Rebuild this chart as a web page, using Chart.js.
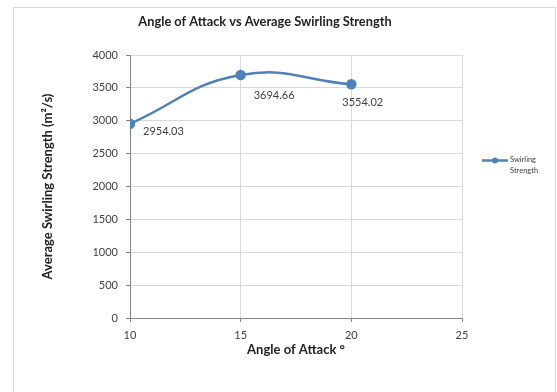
<!DOCTYPE html>
<html>
<head>
<meta charset="utf-8">
<script src="https://cdn.jsdelivr.net/npm/chart.js@4"></script>
<style>
  body { margin: 0; background: #fff; }
  #wrap { width: 557px; height: 392px; }
</style>
</head>
<body>
<div id="wrap"><canvas id="myChart" width="557" height="392"></canvas></div>
<script>
// angle of attack (deg) and average swirling strength (m2/s)
const angles = [10, 15, 20];
const strength = [2954.03, 3694.66, 3554.02];
const pointLabels = ["2954.03", "3694.66", "3554.02"];
const xTicks = [10, 15, 20, 25];
const yTicks = [0, 500, 1000, 1500, 2000, 2500, 3000, 3500, 4000];

const seriesName = ["Swirling", "Strength"];
const blue = "#4F81BD";
const font = "Lato";

// label nudges in px (dx, dy from the point)
const labelNudge = [[13, 8], [13, 20], [-9, 18]];

const extras = {
    id: "extras",
    beforeDraw(chart) {
        const ctx = chart.ctx;
        ctx.save();
        ctx.strokeStyle = "#d9d9d9";
        ctx.lineWidth = 1;
        ctx.strokeRect(13.5, 7.5, 542, 400);
        ctx.restore();
    },
    afterDatasetsDraw(chart) {
        const ctx = chart.ctx;
        const meta = chart.getDatasetMeta(0);
        ctx.save();
        // title
        ctx.fillStyle = "#222";
        ctx.font = "bold 12.8px " + font;
        ctx.textAlign = "center";
        ctx.textBaseline = "middle";
        ctx.fillText("Angle of Attack vs Average Swirling Strength", 265, 22);

        // data labels
        ctx.fillStyle = "#404040";
        ctx.font = "11px " + font;
        ctx.textAlign = "left";
        meta.data.forEach((pt, i) => {
            ctx.fillText(pointLabels[i], pt.x + labelNudge[i][0], pt.y + labelNudge[i][1]);
        });

        // legend
        ctx.strokeStyle = blue;
        ctx.lineWidth = 2.5;
        ctx.beginPath();
        ctx.moveTo(482, 160.5);
        ctx.lineTo(508, 160.5);
        ctx.stroke();
        ctx.fillStyle = blue;
        ctx.beginPath();
        ctx.arc(495, 160.5, 3, 0, Math.PI * 2);
        ctx.fill();
        ctx.fillStyle = "#404040";
        ctx.font = "7.5px " + font;
        ctx.fillText(seriesName[0], 510, 160);
        ctx.fillText(seriesName[1], 510, 171);
        ctx.restore();
    }
};

const data = {
    datasets: [
        {
            label: seriesName.join(" "),
            data: angles.map((a, i) => ({ x: a, y: strength[i] })),
            borderColor: blue,
            backgroundColor: blue,
            borderWidth: 2.5,
            pointRadius: 4,
            pointHoverRadius: 4,
            tension: 0.45,
            fill: false
        }
    ]
};

const config = {
    type: "line",
    data: data,
    plugins: [extras],
    options: {
        responsive: false,
        animation: false,
        layout: {
            padding: { top: 55, left: 35, right: 95, bottom: 32 }
        },
        plugins: {
            legend: { display: false },
            title: { display: false },
            tooltip: { enabled: false }
        },
        scales: {
            x: {
                type: "linear",
                min: xTicks[0],
                max: xTicks[xTicks.length - 1],
                afterBuildTicks: axis => {
                    axis.ticks = xTicks.map(v => ({ value: v }));
                },
                afterFit: axis => {
                    axis.height = 42;
                },
                grid: {
                    color: "#d9d9d9",
                    tickColor: "#868686",
                    tickLength: 4
                },
                border: { color: "#868686" },
                ticks: {
                    color: "#404040",
                    padding: 7,
                    font: { family: font, size: 11 },
                    callback: v => String(v)
                },
                title: {
                    display: true,
                    text: "Angle of Attack °",
                    color: "#222",
                    font: { family: font, size: 13, weight: "bold" },
                    padding: { top: 0, bottom: 2 }
                }
            },
            y: {
                min: yTicks[0],
                max: yTicks[yTicks.length - 1],
                afterBuildTicks: axis => {
                    axis.ticks = yTicks.map(v => ({ value: v }));
                },
                afterFit: axis => {
                    axis.width = 95;
                },
                grid: {
                    color: "#d9d9d9",
                    tickColor: "#868686",
                    tickLength: 4
                },
                border: { color: "#868686" },
                ticks: {
                    color: "#404040",
                    padding: 8,
                    font: { family: font, size: 11 },
                    callback: v => String(v)
                },
                title: {
                    display: true,
                    text: "Average Swirling Strength (m²/s)",
                    color: "#222",
                    font: { family: font, size: 13, weight: "bold" },
                    padding: { top: 5, bottom: 0 }
                }
            }
        }
    }
};

const myChart = new Chart(document.getElementById("myChart"), config);
</script>
</body>
</html>
